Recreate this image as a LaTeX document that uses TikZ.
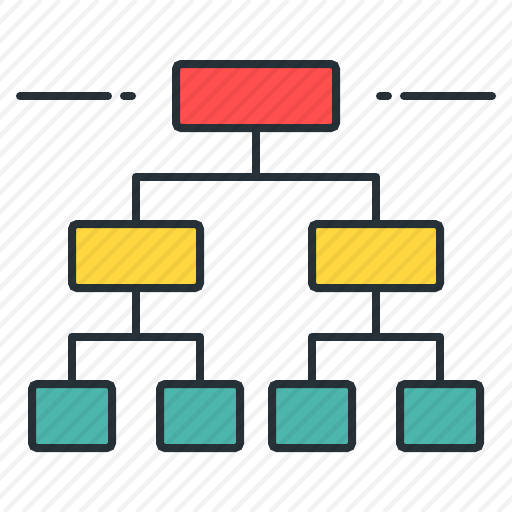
\documentclass[tikz,border=0pt]{standalone}
\usepackage{tikz}
\usetikzlibrary{calc}
\definecolor{ink}{HTML}{263238}
\definecolor{boxred}{HTML}{FF4F4F}
\definecolor{boxyellow}{HTML}{FFD740}
\definecolor{boxteal}{HTML}{4DB6AC}
\tikzset{
  orgbox/.style={draw=ink, line width=8pt, rounded corners=5pt,
    rectangle, inner sep=0pt},
  topbox/.style={orgbox, fill=boxred, minimum width=160pt, minimum height=64pt},
  midbox/.style={orgbox, fill=boxyellow, minimum width=128pt, minimum height=64pt},
  leafbox/.style={orgbox, fill=boxteal, minimum width=80pt, minimum height=64pt},
  wire/.style={draw=ink, line width=8pt, line join=round},
  dash line/.style={draw=ink, line width=8pt, line cap=round},
  stripe/.style={draw=black, opacity=0.05, line width=4.5pt},
}

\begin{document}
\begin{tikzpicture}[x=1pt,y=-1pt]
\useasboundingbox (0,0) rectangle (512,512);
\fill[white] (0,0) rectangle (512,512);
% chart
\node[topbox] (head) at (256,96) {};
\node[midbox] (left) at (136,256) {};
\node[midbox] (right) at (376,256) {};
\node[leafbox] (leafA) at (72,416) {};
\node[leafbox] (leafB) at (200,416) {};
\node[leafbox] (leafC) at (312,416) {};
\node[leafbox] (leafD) at (440,416) {};
\coordinate (bus) at (256,176.5);
\coordinate (busL) at (136,336.5);
\coordinate (busR) at (376,336.5);
\draw[wire] (head.south) -- (bus);
\draw[wire] (left.north) |- (bus) -| (right.north);
\draw[wire] (left.south) -- (busL);
\draw[wire] (leafA.north) |- (busL) -| (leafB.north);
\draw[wire] (right.south) -- (busR);
\draw[wire] (leafC.north) |- (busR) -| (leafD.north);
% side dashes
\draw[dash line] (20,96) -- (108,96);
\draw[dash line] (124,96) -- (132,96);
\draw[dash line] (380,96) -- (388,96);
\draw[dash line] (404,96) -- (492,96);
% background stripes
\begin{scope}
  \clip (0,0) rectangle (512,512);
  \foreach \k in {0,...,54}
    \draw[stripe] (3+19*\k,0) -- (3+19*\k-512,512);
\end{scope}
\end{tikzpicture}
\end{document}
